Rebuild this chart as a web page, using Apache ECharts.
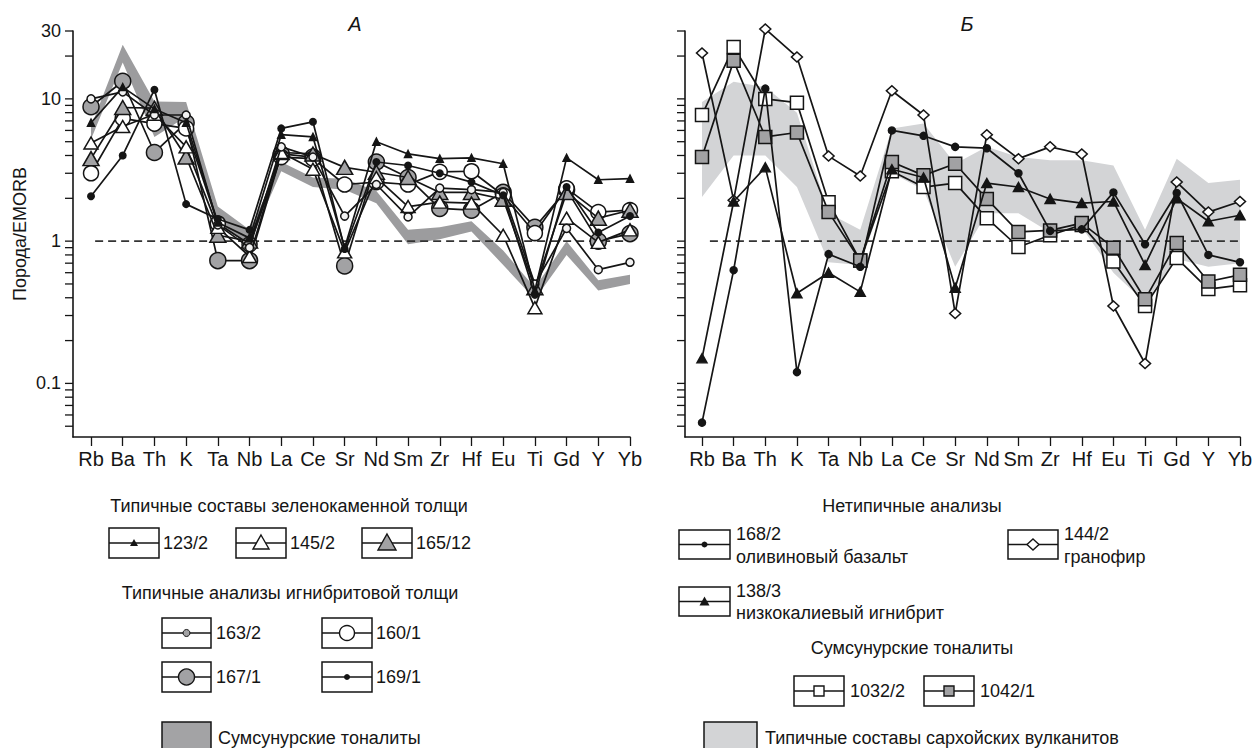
<!DOCTYPE html>
<html>
<head>
<meta charset="utf-8">
<script src="https://cdn.jsdelivr.net/npm/echarts@6.0.0/dist/echarts.min.js"></script>
<style>
html, body { margin: 0; padding: 0; background: #fff; }
#chart { width: 1260px; height: 748px; }
</style>
</head>
<body>
<div id="chart"></div>
<script>
// элементы (ось X)
var elements = ["Rb", "Ba", "Th", "K", "Ta", "Nb", "La", "Ce", "Sr", "Nd", "Sm", "Zr", "Hf", "Eu", "Ti", "Gd", "Y", "Yb"];
var yTickValues = [0.05, 0.06, 0.07, 0.08, 0.09, 0.1, 0.2, 0.3, 0.4, 0.5, 0.6, 0.7, 0.8, 0.9,
  1, 2, 3, 4, 5, 6, 7, 8, 9, 10, 20, 30];
var yLabelValues = [0.1, 1, 10, 30];

// A: зеленокаменная толща
var a123_2 = [6.8, 12.1, 8.5, 6.8, 1.35, 1.05, 5.6, 5.4, 0.9, 5.0, 4.1, 3.8, 3.85, 3.5, 0.45, 3.85, 2.7, 2.75];
var a145_2 = [4.9, 6.4, 7.8, 4.6, 1.25, 0.78, 4.2, 3.2, 0.84, 2.8, 1.75, 1.88, 1.85, 1.1, 0.34, 1.45, 0.98, 1.2];
var a165_12 = [3.8, 8.7, 8.6, 3.9, 1.1, 1.0, 4.2, 4.1, 3.3, 3.05, 2.8, 2.2, 2.2, 1.97, 0.47, 2.2, 1.45, 1.65];
// A: игнимбритовая толща
var a163_2 = [10, 11.2, 7.7, 7.7, 1.3, 0.9, 4.6, 3.9, 1.5, 2.5, 1.48, 2.36, 2.3, 2.2, 0.5, 1.23, 0.63, 0.71];
var a160_1 = [3.0, 7.3, 6.7, 6.2, 1.33, 0.95, 3.9, 3.8, 2.5, 2.6, 2.5, 3.07, 3.1, 2.1, 1.14, 2.35, 1.6, 1.65];
var a167_1 = [8.8, 13.3, 4.2, 6.8, 0.73, 0.73, 4.1, 3.9, 0.67, 3.6, 2.8, 1.7, 1.65, 2.2, 1.25, 2.3, 1.0, 1.13];
var a169_1 = [2.07, 4.0, 11.6, 1.82, 1.43, 1.2, 6.2, 6.9, 0.88, 3.6, 3.4, 3.0, 2.6, 2.1, 0.42, 2.4, 1.15, 1.5];
// A: сумсунурские тоналиты (полоса)
var tonaliteLow = [5.2, 18, 5.4, 7.5, 1.3, 0.95, 3.1, 2.4, 2.3, 1.85, 0.95, 1.03, 1.17, 0.68, 0.39, 0.8, 0.45, 0.5];
var tonaliteHigh = [6.4, 24, 9.6, 9.5, 1.75, 1.2, 3.6, 2.8, 2.75, 2.25, 1.2, 1.25, 1.38, 0.86, 0.47, 1.0, 0.53, 0.58];

// Б: нетипичные анализы
var b168_2 = [0.053, 0.625, 11.8, 0.12, 0.81, 0.66, 6.0, 5.5, 4.6, 4.5, 3.0, 1.18, 1.21, 2.2, 0.95, 2.18, 0.8, 0.71];
var b144_2 = [21, 1.94, 31, 19.7, 3.96, 2.87, 11.4, 7.7, 0.31, 5.6, 3.8, 4.6, 4.1, 0.35, 0.138, 2.6, 1.6, 1.9];
var b138_3 = [0.15, 1.9, 3.3, 0.43, 0.6, 0.44, 3.2, 2.8, 0.47, 2.56, 2.4, 1.98, 1.85, 1.9, 0.68, 2.0, 1.38, 1.52];
// Б: сумсунурские тоналиты
var b1032_2 = [7.7, 23.2, 10, 9.4, 1.88, 0.73, 3.1, 2.4, 2.56, 1.45, 0.91, 1.1, 1.3, 0.72, 0.35, 0.76, 0.46, 0.49];
var b1042_1 = [3.9, 18.5, 5.4, 5.8, 1.6, 0.73, 3.6, 2.9, 3.5, 1.98, 1.16, 1.19, 1.34, 0.9, 0.39, 0.97, 0.52, 0.58];
// Б: сархойские вулканиты (поле)
var sarkhoyLow = [2.04, 4.0, 4.0, 2.4, 0.71, 0.68, 3.0, 2.3, 0.66, 1.57, 1.57, 1.15, 1.25, 0.6, 0.37, 0.75, 0.66, 0.7];
var sarkhoyHigh = [9.5, 13.2, 12.1, 8.0, 1.57, 1.2, 6.2, 6.7, 3.5, 4.6, 3.9, 3.7, 3.7, 3.4, 1.2, 3.8, 2.56, 2.7];

var INK = "#151515";
var GRAY = "#a2a2a4";
var FONT = "Liberation Sans";

var chart = echarts.init(document.getElementById("chart"), null, { renderer: "svg" });

var elementIndex = elements.map(function (e, i) { return i; });

function sample(name, values, panel, symbol, size, fill, z) {
  return {
    name: name,
    type: "line",
    xAxisIndex: panel,
    yAxisIndex: panel,
    data: values.map(function (v, i) { return [i, v]; }),
    symbol: symbol,
    symbolSize: size,
    showAllSymbol: true,
    clip: false,
    lineStyle: { color: INK, width: 1.7 },
    itemStyle: { color: fill, borderColor: INK, borderWidth: 1.5 },
    emphasis: { disabled: true },
    silent: true,
    z: z
  };
}

function band(low, high, panel, color) {
  return {
    type: "custom",
    xAxisIndex: panel,
    yAxisIndex: panel,
    silent: true,
    z: 1,
    data: low.map(function (v, i) { return [i, v, high[i]]; }),
    encode: { x: 0, y: [1, 2] },
    renderItem: function (params, api) {
      if (params.dataIndexInside !== 0) return null;
      var top = [], bottom = [];
      for (var j = 0; j < params.dataInsideLength; j++) {
        top.push(api.coord([api.value(0, j), api.value(2, j)]));
        bottom.unshift(api.coord([api.value(0, j), api.value(1, j)]));
      }
      return { type: "polygon", shape: { points: top.concat(bottom) }, style: { fill: color } };
    }
  };
}

function yTicks(panel) {
  return {
    type: "custom",
    xAxisIndex: panel,
    yAxisIndex: panel,
    silent: true,
    clip: false,
    data: yTickValues.map(function (v) { return [0, v]; }),
    renderItem: function (params, api) {
      var x = params.coordSys.x;
      var y = api.coord([0, api.value(1)])[1];
      return { type: "line", shape: { x1: x - 8, y1: y, x2: x, y2: y }, style: { stroke: INK, lineWidth: 1.3 } };
    }
  };
}

function unitLine(panel, from, to) {
  return {
    type: "line",
    xAxisIndex: panel,
    yAxisIndex: panel,
    data: [[from, 1], [to, 1]],
    symbol: "none",
    clip: false,
    silent: true,
    lineStyle: { color: "#333", width: 1.6, type: [8, 5] },
    z: 1
  };
}

function xAxis(panel, min) {
  return {
    type: "value",
    gridIndex: panel,
    min: min,
    max: 17,
    axisLine: { show: true, onZero: false, lineStyle: { color: INK, width: 1.6 } },
    axisTick: { show: true, customValues: elementIndex, length: 9, lineStyle: { color: INK, width: 1.3 } },
    axisLabel: {
      customValues: elementIndex,
      formatter: function (v) { return elements[Math.round(v)]; },
      fontSize: 20, fontFamily: FONT, color: INK, margin: 12
    },
    splitLine: { show: false }
  };
}

function yAxis(panel) {
  return {
    type: "log",
    logBase: 10,
    gridIndex: panel,
    min: 0.042,
    max: 30,
    name: panel === 0 ? "Порода/EMORB" : "",
    nameLocation: "middle",
    nameRotate: 90,
    nameGap: 44,
    nameTextStyle: { fontSize: 18, fontFamily: FONT, color: INK },
    axisLine: { show: true, onZero: false, lineStyle: { color: INK, width: 1.6 } },
    axisTick: { show: false },
    axisLabel: {
      show: panel === 0,
      fontSize: 18, fontFamily: FONT, color: INK, margin: 12,
      formatter: function (v) {
        for (var k = 0; k < yLabelValues.length; k++) {
          if (Math.abs(v - yLabelValues[k]) / yLabelValues[k] < 1e-3) return String(yLabelValues[k]);
        }
        return "";
      }
    },
    splitLine: { show: false }
  };
}

// --- легенды ---
function txt(text, x, y, align, size, italic) {
  return {
    type: "text", x: x, y: y, silent: true,
    style: {
      text: text, fill: INK, fontSize: size || 18, fontFamily: FONT,
      fontStyle: italic ? "italic" : "normal",
      align: align || "left", textAlign: align || "left",
      verticalAlign: "middle", textVerticalAlign: "middle"
    }
  };
}

function mark(kind, cx, cy) {
  var s = { stroke: INK, lineWidth: 1.4, fill: "#fff" };
  if (kind === "triSmall") return { type: "polygon", shape: { points: [[cx, cy - 4], [cx + 4, cy + 3], [cx - 4, cy + 3]] }, style: { fill: INK } };
  if (kind === "triOpen") return { type: "polygon", shape: { points: [[cx, cy - 8], [cx + 8, cy + 6], [cx - 8, cy + 6]] }, style: s };
  if (kind === "triGray") return { type: "polygon", shape: { points: [[cx, cy - 9], [cx + 9, cy + 7], [cx - 9, cy + 7]] }, style: { stroke: INK, lineWidth: 1.4, fill: GRAY } };
  if (kind === "triBlack") return { type: "polygon", shape: { points: [[cx, cy - 5], [cx + 5, cy + 4], [cx - 5, cy + 4]] }, style: { fill: INK } };
  if (kind === "dotGray") return { type: "circle", shape: { cx: cx, cy: cy, r: 3.5 }, style: { stroke: INK, lineWidth: 1, fill: GRAY } };
  if (kind === "circOpen") return { type: "circle", shape: { cx: cx, cy: cy, r: 7.5 }, style: s };
  if (kind === "circGray") return { type: "circle", shape: { cx: cx, cy: cy, r: 8 }, style: { stroke: INK, lineWidth: 1.4, fill: GRAY } };
  if (kind === "dot") return { type: "circle", shape: { cx: cx, cy: cy, r: 3 }, style: { fill: INK } };
  if (kind === "diamond") return { type: "polygon", shape: { points: [[cx, cy - 5.5], [cx + 6, cy], [cx, cy + 5.5], [cx - 6, cy]] }, style: s };
  if (kind === "sqOpen") return { type: "rect", shape: { x: cx - 5, y: cy - 5, width: 10, height: 10 }, style: s };
  if (kind === "sqGray") return { type: "rect", shape: { x: cx - 5, y: cy - 5, width: 10, height: 10 }, style: { stroke: INK, lineWidth: 1.4, fill: GRAY } };
}

function box(x, y, w, h, kind) {
  return [
    { type: "rect", shape: { x: x, y: y, width: w, height: h }, style: { fill: "#fff", stroke: INK, lineWidth: 1.5 } },
    { type: "line", shape: { x1: x, y1: y + h / 2, x2: x + w, y2: y + h / 2 }, style: { stroke: INK, lineWidth: 1.5 } },
    mark(kind, x + w / 2, y + h / 2)
  ];
}

var legend = [].concat(
  txt("A", 355, 24, "center", 20, true),
  txt("Б", 967, 24, "center", 20, true),
  txt("Типичные составы зеленокаменной толщи", 289, 506, "center"),
  box(109, 528, 50, 30, "triSmall"), txt("123/2", 163, 543),
  box(236, 528, 50, 30, "triOpen"), txt("145/2", 290, 543),
  box(362, 528, 50, 30, "triGray"), txt("165/12", 416, 543),
  txt("Типичные анализы игнибритовой толщи", 290, 593, "center"),
  box(162, 618, 49, 30, "dotGray"), txt("163/2", 216, 633),
  box(322, 618, 50, 30, "circOpen"), txt("160/1", 376, 633),
  box(162, 662, 49, 30, "circGray"), txt("167/1", 216, 677),
  box(322, 662, 50, 30, "dot"), txt("169/1", 376, 677),
  [{ type: "rect", shape: { x: 162, y: 722, width: 49, height: 40 }, style: { fill: "#a3a3a5", stroke: INK, lineWidth: 1.5 } }],
  txt("Сумсунурские тоналиты", 218, 738),
  txt("Нетипичные анализы", 912, 506, "center"),
  box(679, 530, 51, 29, "dot"), txt("168/2", 736, 534), txt("оливиновый базальт", 736, 557),
  box(1008, 530, 50, 29, "diamond"), txt("144/2", 1064, 534), txt("гранофир", 1064, 557),
  box(679, 587, 51, 29, "triBlack"), txt("138/3", 736, 591), txt("низкокалиевый игнибрит", 736, 613),
  txt("Сумсунурские тоналиты", 912, 648, "center"),
  box(794, 676, 50, 30, "sqOpen"), txt("1032/2", 850, 691),
  box(924, 676, 50, 30, "sqGray"), txt("1042/1", 980, 691),
  [{ type: "rect", shape: { x: 704, y: 722, width: 53, height: 40 }, style: { fill: "#d3d4d6", stroke: INK, lineWidth: 1.5 } }],
  txt("Типичные составы сархойских вулканитов", 765, 738)
);

var option = {
  animation: false,
  backgroundColor: "#fff",
  textStyle: { fontFamily: FONT },
  grid: [
    { left: 73, top: 31, width: 557, height: 406, outerBoundsMode: "none" },
    { left: 685, top: 31, width: 555, height: 406, outerBoundsMode: "none" }
  ],
  xAxis: [xAxis(0, -0.568), xAxis(1, -0.537)],
  yAxis: [yAxis(0), yAxis(1)],
  graphic: { elements: legend },
  series: [
    band(tonaliteLow, tonaliteHigh, 0, "#9c9c9e"),
    unitLine(0, 0.13, 17.3),
    yTicks(0),
    sample("167/1", a167_1, 0, "circle", 16, GRAY, 3),
    sample("160/1", a160_1, 0, "circle", 15, "#fff", 4),
    sample("165/12", a165_12, 0, "triangle", [16, 14], GRAY, 5),
    sample("145/2", a145_2, 0, "triangle", [14, 12], "#fff", 6),
    sample("163/2", a163_2, 0, "circle", 8, "#f2f2f2", 7),
    sample("123/2", a123_2, 0, "triangle", [7, 7], INK, 8),
    sample("169/1", a169_1, 0, "circle", 6.5, INK, 9),

    band(sarkhoyLow, sarkhoyHigh, 1, "#d3d4d6"),
    unitLine(1, 0.25, 17.45),
    yTicks(1),
    sample("1032/2", b1032_2, 1, "rect", 13, "#fff", 4),
    sample("1042/1", b1042_1, 1, "rect", 13, GRAY, 5),
    sample("144/2", b144_2, 1, "diamond", [11, 10], "#fff", 6),
    sample("138/3", b138_3, 1, "triangle", [10, 9], INK, 7),
    sample("168/2", b168_2, 1, "circle", 7, INK, 8)
  ]
};

chart.setOption(option);
</script>
</body>
</html>
